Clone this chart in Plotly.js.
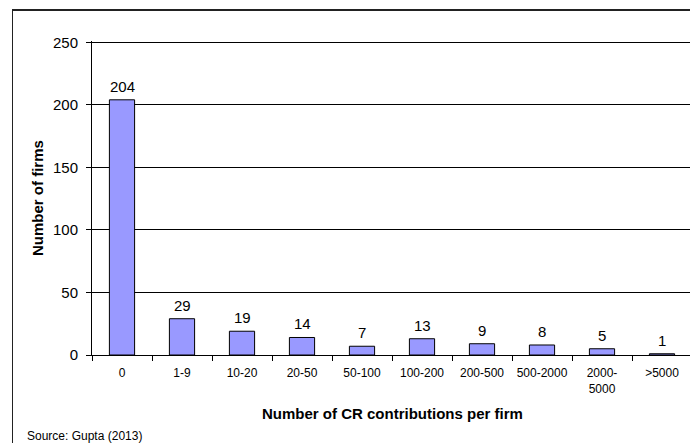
<!DOCTYPE html>
<html>
<head>
<meta charset="utf-8">
<script src="https://cdn.plot.ly/plotly-3.0.1.min.js"></script>
<style>
  html, body { margin: 0; padding: 0; overflow: hidden; background: #fff; }
  #wrap { position: relative; width: 700px; height: 443px; }
  #chart { width: 700px; height: 443px; }
  /* frame round the chart area (left and top edges; the rest runs off the page) */
  #frame {
    position: absolute; left: 12px; top: 9px; width: 720px; height: 460px;
    border-left: 1.5px solid #222; border-top: 2px solid #222;
    pointer-events: none;
  }
</style>
</head>
<body>
<div id="wrap">
  <div id="chart"></div>
  <div id="frame"></div>
</div>
<script>
// Firms grouped by how many CR contributions they made
const categories = ['0', '1-9', '10-20', '20-50', '50-100', '100-200', '200-500', '500-2000', '2000-<br>5000', '>5000'];
const firmCounts = [204, 29, 19, 14, 7, 13, 9, 8, 5, 1];
const yTickValues = [0, 50, 100, 150, 200, 250];

const font = 'Arial, "Liberation Sans", Helvetica, sans-serif';

const bars = {
  type: 'bar',
  x: categories,
  y: firmCounts,
  width: 0.42,
  marker: { color: '#9999ff', line: { color: '#000', width: 1 } },
  hoverinfo: 'x+y'
};

// value labels above each bar
const valueLabels = categories.map((c, i) => ({
  x: c, y: firmCounts[i], xref: 'x', yref: 'y',
  text: String(firmCounts[i]), showarrow: false,
  yanchor: 'bottom', yshift: 3,
  font: { family: font, size: 15, color: '#000' }
}));

// pixel helpers (plot area spans 92..692 x 41..355)
const px = v => (v - 92) / 600;
const py = v => (355 - v) / 314;

const layout = {
  width: 700, height: 443,
  margin: { l: 92, r: 8, t: 41, b: 88 },
  paper_bgcolor: '#fff', plot_bgcolor: '#fff',
  showlegend: false,
  xaxis: {
    type: 'category',
    range: [-0.5, 9.5],
    tickson: 'boundaries',
    tickangle: 0,
    ticks: 'outside', ticklen: 5, tickcolor: '#000', tickwidth: 1,
    showline: true, linecolor: '#000', linewidth: 1,
    showgrid: false, zeroline: false,
    tickfont: { family: font, size: 12, color: '#000' },
    ticklabelstandoff: 7
  },
  yaxis: {
    range: [0, 251],
    tickvals: yTickValues,
    ticks: 'outside', ticklen: 5, tickcolor: '#000', tickwidth: 1,
    showline: true, linecolor: '#000', linewidth: 1,
    showgrid: true, gridcolor: '#000', gridwidth: 1,
    zeroline: false,
    tickfont: { family: font, size: 15, color: '#000' },
    ticklabelstandoff: 5
  },
  annotations: valueLabels.concat([
    {
      text: '<b>Number of CR contributions per firm</b>',
      xref: 'paper', yref: 'paper', x: 0.5, y: py(413),
      xanchor: 'center', yanchor: 'middle', showarrow: false,
      font: { family: font, size: 15, color: '#000' }
    },
    {
      text: '<b>Number of firms</b>',
      xref: 'paper', yref: 'paper', x: px(37), y: 0.5,
      xanchor: 'center', yanchor: 'middle', showarrow: false, textangle: -90,
      font: { family: font, size: 15, color: '#000' }
    },
    {
      text: 'Source: Gupta (2013)',
      xref: 'paper', yref: 'paper', x: px(25), y: py(436),
      xanchor: 'left', yanchor: 'middle', showarrow: false,
      font: { family: font, size: 12, color: '#000' }
    }
  ])
};

Plotly.newPlot('chart', [bars], layout, { displayModeBar: false, staticPlot: true });
</script>
</body>
</html>
